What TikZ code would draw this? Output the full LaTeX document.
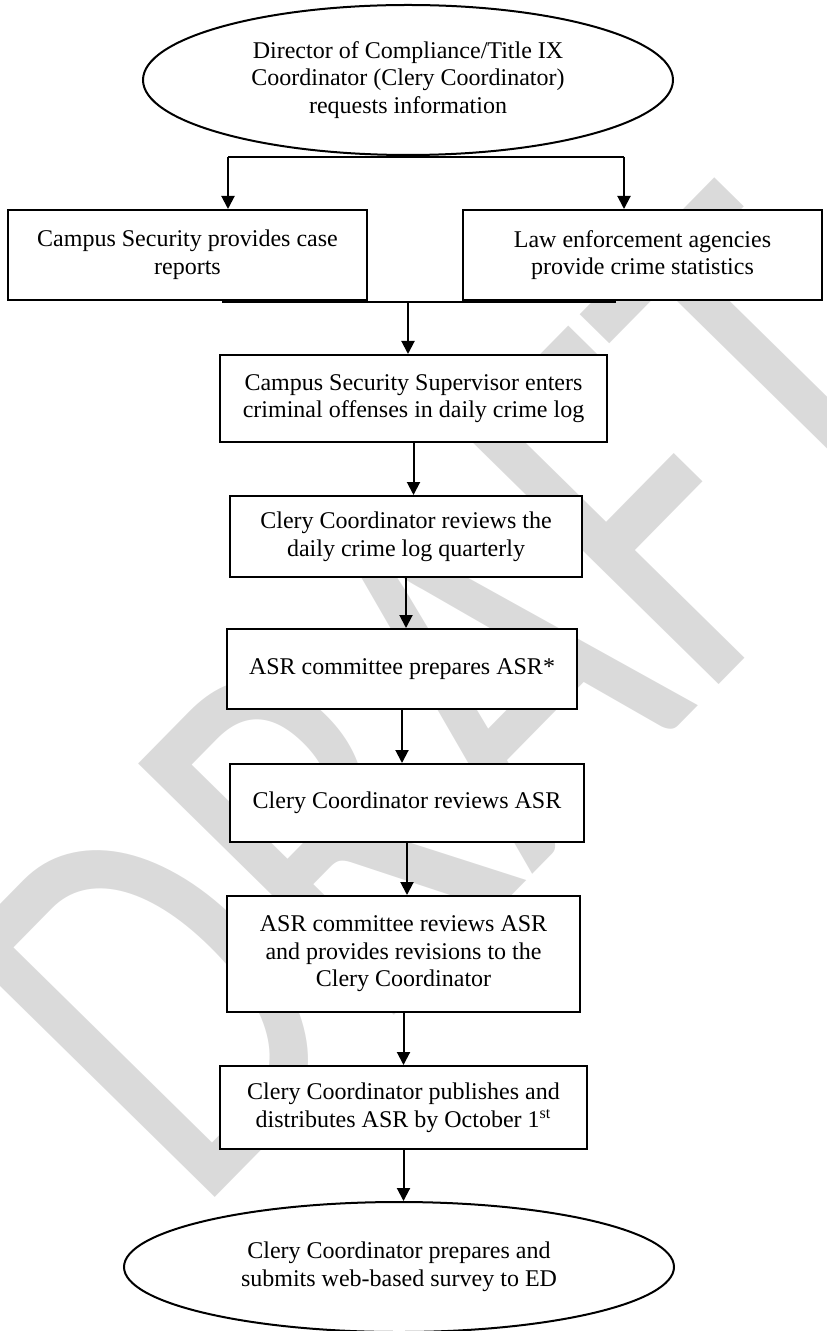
\documentclass[tikz,border=0pt]{standalone}
\usepackage{fontspec}
\setmainfont{Liberation Serif}
\newfontfamily\wmfont{Carlito}
\usetikzlibrary{arrows.meta,shapes.geometric}
\definecolor{wmgray}{RGB}{218,218,218}

\begin{document}
\begin{tikzpicture}[x=0.5pt,y=-0.5pt,
  box/.style={draw,fill=white,line width=1pt,align=center,inner sep=2pt,font=\fontsize{12}{13.8}\selectfont},
  oval/.style={box,ellipse},
  flow/.style={line width=1pt,-{Triangle[length=6.5pt,width=6.5pt]}}]
\useasboundingbox (0,0) rectangle (826,1331);

% watermark
\node[wmgray,rotate=45.5,yscale=1.35,anchor=base west,inner sep=0pt,font=\wmfont\fontsize{207}{207}\selectfont] (wm) at (195,1218) {DRAFT};

\node[oval,minimum width=265pt,minimum height=75pt] (req) at (408,80)
  {Director of Compliance/Title IX\\Coordinator (Clery Coordinator)\\requests information};
\node[box,minimum width=179.5pt,minimum height=45pt] (case) at (187.5,255)
  {Campus Security provides case\\reports};
\node[box,minimum width=179.5pt,minimum height=45pt] (law) at (642.5,255)
  {Law enforcement agencies\\provide crime statistics};
\node[box,minimum width=193.5pt,minimum height=43.5pt] (log) at (413.5,398.5)
  {Campus Security Supervisor enters\\criminal offenses in daily crime log};
\node[box,minimum width=176pt,minimum height=40.5pt] (review) at (406,536.5)
  {Clery Coordinator reviews the\\daily crime log quarterly};
\node[box,minimum width=175pt,minimum height=40pt] (prep) at (402,669)
  {ASR committee prepares ASR*};
\node[box,minimum width=177pt,minimum height=39pt] (check) at (407,803)
  {Clery Coordinator reviews ASR};
\node[box,minimum width=176.5pt,minimum height=58pt] (revise) at (403.5,954)
  {ASR committee reviews ASR\\and provides revisions to the\\Clery Coordinator};
\node[box,minimum width=183.5pt,minimum height=41.5pt] (publish) at (403.5,1107.5)
  {Clery Coordinator publishes and\\distributes ASR by October 1\textsuperscript{st}};
\node[oval,minimum width=275pt,minimum height=65pt] (survey) at (399,1267)
  {Clery Coordinator prepares and\\submits web-based survey to ED};

\coordinate (splitL) at (228,157);
\coordinate (splitR) at (624,157);
\draw[line width=1pt] (splitL) -- (splitR);
\draw[flow] (splitL) -- (splitL |- case.north);
\draw[flow] (splitR) -- (splitR |- law.north);

\coordinate (joinL) at (222,302);
\coordinate (joinR) at (616,302);
\coordinate (joinM) at (408,302);
\draw[line width=1pt] (joinL) -- (joinR);
\draw[flow] (joinM) -- (joinM |- log.north);

\draw[flow] (log.south) -- (log.south |- review.north);
\draw[flow] (review.south) -- (review.south |- prep.north);
\draw[flow] (prep.south) -- (prep.south |- check.north);
\draw[flow] (check.south) -- (check.south |- revise.north);
\draw[flow] (revise.south) -- (revise.south |- publish.north);
\draw[flow] (publish.south) -- (publish.south |- survey.north);
\end{tikzpicture}
\end{document}
